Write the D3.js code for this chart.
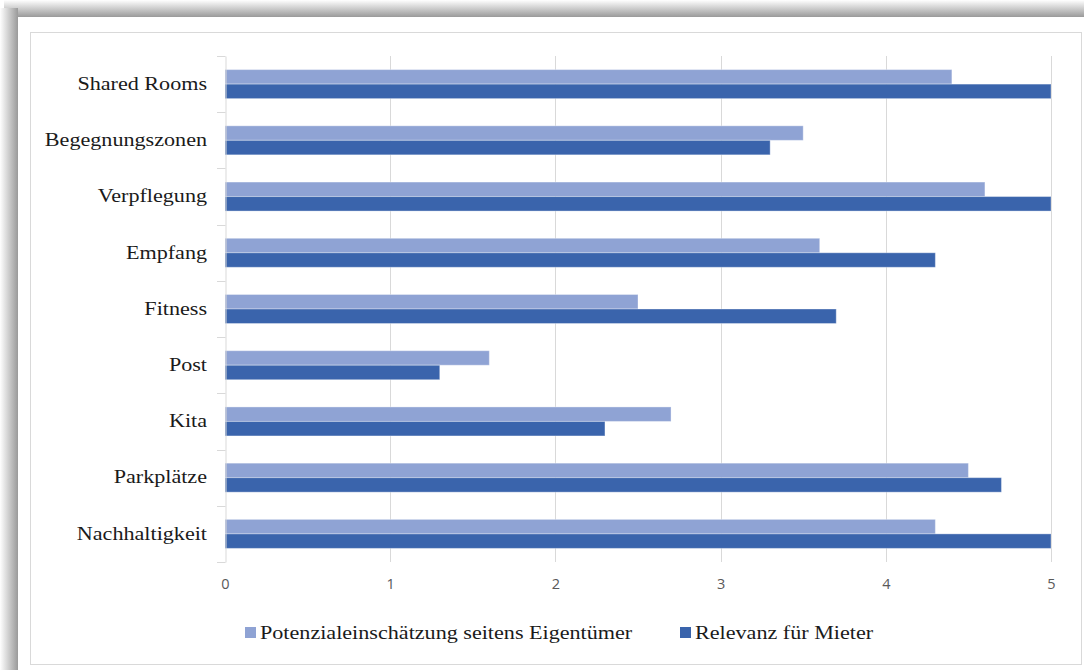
<!DOCTYPE html>
<html>
<head>
<meta charset="utf-8">
<script src="https://cdn.jsdelivr.net/npm/d3@7"></script>
<style>
  html, body { margin: 0; padding: 0; background: #fff; }
  svg { display: block; }
</style>
</head>
<body>
<svg id="chart" width="1084" height="670"></svg>
<script>
const categories = ["Shared Rooms", "Begegnungszonen", "Verpflegung", "Empfang", "Fitness", "Post", "Kita", "Parkplätze", "Nachhaltigkeit"];
const seriesNames = ["Potenzialeinschätzung seitens Eigentümer", "Relevanz für Mieter"];
const potenzial = [4.4, 3.5, 4.6, 3.6, 2.5, 1.6, 2.7, 4.5, 4.3];
const relevanz = [5.0, 3.3, 5.0, 4.3, 3.7, 1.3, 2.3, 4.7, 5.0];
const xTicks = [0, 1, 2, 3, 4, 5];
const colors = ["#8FA3D4", "#3A64AC"];

const serif = "'Liberation Serif', 'Times New Roman', serif";
const stretch = 1.23;

const svg = d3.select("#chart");
const defs = svg.append("defs");

// shadow frame
const gTop = defs.append("linearGradient").attr("id", "shTop").attr("x1", 0).attr("y1", 0).attr("x2", 0).attr("y2", 1);
gTop.append("stop").attr("offset", "0%").attr("stop-color", "#ffffff");
gTop.append("stop").attr("offset", "100%").attr("stop-color", "#9a9a9a");
const gLeft = defs.append("linearGradient").attr("id", "shLeft").attr("x1", 0).attr("y1", 0).attr("x2", 1).attr("y2", 0);
gLeft.append("stop").attr("offset", "0%").attr("stop-color", "#ffffff");
gLeft.append("stop").attr("offset", "100%").attr("stop-color", "#9a9a9a");

svg.append("rect").attr("x", 0).attr("y", 0).attr("width", 1084).attr("height", 670).attr("fill", "#fff");
svg.append("rect").attr("x", 4).attr("y", 0).attr("width", 1084).attr("height", 17).attr("fill", "url(#shTop)");
svg.append("rect").attr("x", 0).attr("y", 8).attr("width", 18).attr("height", 670).attr("fill", "url(#shLeft)");
svg.append("rect").attr("x", 18).attr("y", 17).attr("width", 1066).attr("height", 653).attr("fill", "#fff");

// inner chart border
svg.append("rect").attr("x", 30.5).attr("y", 32.5).attr("width", 1051).attr("height", 632)
  .attr("fill", "#fff").attr("stroke", "#d9d9d9").attr("stroke-width", 1);

const margin = { left: 225, right: 1051, top: 56, bottom: 562 };
const x = d3.scaleLinear().domain([0, 5]).range([margin.left, margin.right]);
const y = d3.scaleBand().domain(categories).range([margin.top, margin.bottom]).paddingInner(0.484).paddingOuter(0.242);
const ySub = d3.scaleBand().domain([0, 1]).range([0, y.bandwidth()]);

// gridlines
svg.append("g").selectAll("line").data(xTicks.filter(d => d > 0)).join("line")
  .attr("x1", d => Math.round(x(d)) + 0.5).attr("x2", d => Math.round(x(d)) + 0.5)
  .attr("y1", margin.top).attr("y2", margin.bottom)
  .attr("stroke", "#d9d9d9").attr("stroke-width", 1);

// bars
const series = [potenzial, relevanz];
series.forEach((vals, si) => {
  svg.append("g").selectAll("rect").data(categories).join("rect")
    .attr("x", x(0))
    .attr("y", (c) => y(c) + ySub(si))
    .attr("width", (c, i) => x(vals[i]) - x(0))
    .attr("height", ySub.bandwidth())
    .attr("fill", colors[si])
    .attr("stroke", "#ffffff").attr("stroke-opacity", 0.35).attr("stroke-width", 1);
});

// category axis
const yAxis = d3.axisLeft(y).tickSize(0).tickPadding(18);
const ya = svg.append("g").attr("transform", `translate(${margin.left + 0.5},0)`).call(yAxis);
ya.select(".domain").attr("stroke", "#d9d9d9");
ya.selectAll("text").attr("font-family", serif)
  .attr("font-size", "18px").attr("fill", "#1a1a1a")
  .attr("x", -18.5 / stretch)
  .attr("transform", `scale(${stretch},1)`);
// category boundary ticks
svg.append("g").selectAll("line").data(d3.range(categories.length + 1)).join("line")
  .attr("x1", margin.left - 8).attr("x2", margin.left + 0.5)
  .attr("y1", i => Math.round(i === categories.length ? margin.bottom : y(categories[i]) - y.step() * y.paddingInner() / 2) + 0.5)
  .attr("y2", i => Math.round(i === categories.length ? margin.bottom : y(categories[i]) - y.step() * y.paddingInner() / 2) + 0.5)
  .attr("stroke", "#d9d9d9");

// value axis labels
const xAxis = d3.axisBottom(x).tickValues(xTicks).tickSize(0).tickPadding(17).tickFormat(d3.format("d"));
const xa = svg.append("g").attr("transform", `translate(0,${margin.bottom})`).call(xAxis);
xa.select(".domain").remove();
xa.selectAll("text").attr("font-family", "'Open Sans', 'Liberation Sans', sans-serif")
  .attr("font-size", "14.5px").attr("fill", "#595959");

// legend
const legendItems = [{ x: 245, name: seriesNames[0], color: colors[0] }, { x: 680, name: seriesNames[1], color: colors[1] }];
const lg = svg.append("g");
legendItems.forEach(it => {
  lg.append("rect").attr("x", it.x).attr("y", 627).attr("width", 11).attr("height", 11).attr("fill", it.color);
  lg.append("text").attr("x", 0).attr("y", 0)
    .attr("transform", `translate(${it.x + 15},639) scale(${stretch},1)`)
    .attr("font-family", serif)
    .attr("font-size", "18px").attr("fill", "#1a1a1a").text(it.name);
});
</script>
</body>
</html>
